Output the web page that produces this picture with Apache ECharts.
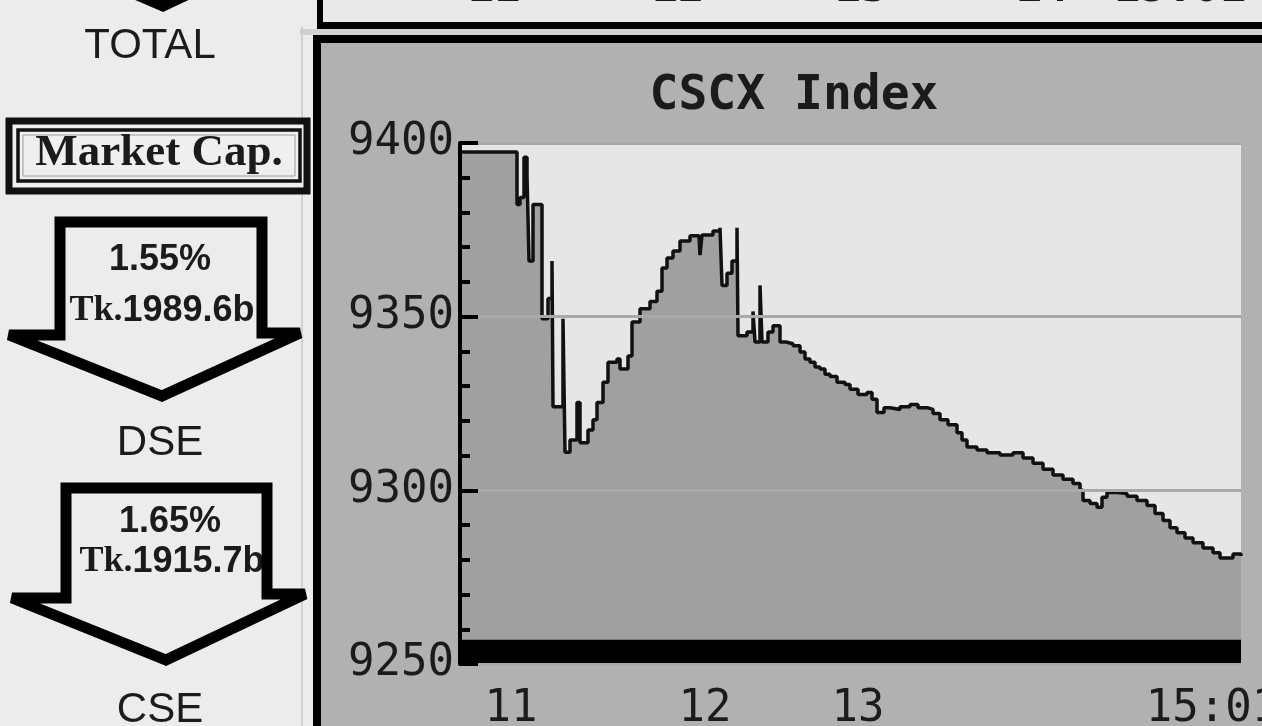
<!DOCTYPE html>
<html>
<head>
<meta charset="utf-8">
<title>CSCX Index</title>
<script src="https://cdn.jsdelivr.net/npm/echarts@6/dist/echarts.min.js"></script>
<style>
  html, body { margin: 0; padding: 0; background: #ececec; overflow: hidden; }
  #main { width: 1262px; height: 726px; }
</style>
</head>
<body>
<div id="main"></div>
<script>
// position along the trade axis (tick count) and the CSCX value there
var tickIndex = [0, 57, 60, 64, 67, 69, 73, 82, 88, 92, 93, 103, 105, 110, 117, 120, 128, 133, 137, 143,
  148, 157, 160, 168, 172, 180, 190, 197, 202, 207, 213, 220, 230, 239, 240, 242, 253, 260, 262, 267,
  272, 277, 278, 287, 293, 295, 300, 302, 308, 313, 320, 326, 333, 340, 345, 350, 355, 360, 365, 370,
  377, 385, 390, 398, 407, 412, 417, 424, 430, 440, 450, 458, 467, 473, 480, 488, 497, 502, 507, 517,
  527, 540, 553, 563, 573, 583, 593, 603, 613, 620, 623, 630, 637, 642, 647, 657, 667, 677, 687, 695,
  703, 710, 717, 725, 733, 743, 753, 760, 767, 773, 781];
var indexValue = [9397.4, 9382.3, 9384.3, 9395.9, 9390.7, 9366.0, 9382.3, 9349.4, 9355.2, 9366.0, 9324.1, 9349.4, 9311.0, 9314.5, 9325.3, 9313.7, 9317.4, 9320.3, 9325.3, 9331.1,
  9336.9, 9337.8, 9334.9, 9338.7, 9348.5, 9352.3, 9354.4, 9357.3, 9364.0, 9366.9, 9368.9, 9371.8, 9373.3, 9373.5, 9367.7, 9373.5, 9374.7, 9375.6, 9359.0, 9362.5,
  9366.0, 9375.6, 9344.5, 9345.6, 9351.5, 9342.7, 9359.0, 9342.7, 9345.6, 9347.4, 9342.7, 9342.2, 9341.6, 9339.8, 9337.8, 9336.9, 9335.5, 9334.9, 9333.4, 9332.8,
  9331.1, 9330.5, 9329.1, 9327.6, 9328.2, 9326.2, 9322.4, 9323.8, 9323.3, 9324.1, 9324.7, 9323.8, 9323.3, 9322.1, 9320.3, 9318.9, 9316.6, 9314.5, 9312.5, 9311.6,
  9310.8, 9310.2, 9310.8, 9309.3, 9307.8, 9306.1, 9304.4, 9303.2, 9302.0, 9300.0, 9297.1, 9296.2, 9295.1, 9298.0, 9299.4, 9299.1, 9298.3, 9297.1, 9295.6, 9293.3,
  9291.3, 9289.2, 9287.8, 9286.3, 9284.9, 9283.4, 9282.0, 9280.5, 9280.5, 9281.7, 9281.1];

// hour labels on the trade axis
var hourIndex = [51, 245, 398, 781];
var hourLabels = ['11', '12', '13', '15:01'];

// value axis
var yMin = 9250, yMax = 9400, yStep = 50;
// black base strip along the bottom of the plot
var baseBand = [9257, 9257];

// labels of the panel above (only their bottoms show)
var prevLabels = ['11', '12', '13', '14', '15:01'];

// left side: market capitalisation
var totalLabel = 'TOTAL';
var capTitle = 'Market Cap.';
var capPct = ['1.55%', '1.65%'];
var capValue = ['1989.6b', '1915.7b'];
var exchanges = ['DSE', 'CSE'];

var monoFont = '"DejaVu Sans Mono", monospace';

function arrow(pts, z) {
  return {
    type: 'polygon', z: z, silent: true,
    shape: { points: pts },
    style: { fill: 'none', stroke: '#000', lineWidth: 11, lineJoin: 'miter', miterLimit: 3 }
  };
}
function label(text, x, y, font, z) {
  return {
    type: 'text', z: z || 5, silent: true, x: x, y: y,
    style: { text: text, font: font, fill: '#1b1b1b', align: 'center', verticalAlign: 'middle' }
  };
}
function capLine(text, x, y) {
  return {
    type: 'text', z: 5, silent: true, x: x, y: y,
    style: {
      text: '{t|Tk.}{n|' + text + '}', align: 'center', verticalAlign: 'middle',
      rich: {
        t: { font: 'bold 36px "Liberation Serif", serif', fill: '#1b1b1b' },
        n: { font: 'bold 36px "Liberation Sans", sans-serif', fill: '#1b1b1b' }
      }
    }
  };
}

var graphics = [
  // chart panel and the panel above
  { type: 'rect', z: -10, silent: true, shape: { x: 318, y: 40, width: 944, height: 686 }, style: { fill: '#b1b1b1' } },
  { type: 'rect', z: -10, silent: true, shape: { x: 320, y: 0, width: 942, height: 24 }, style: { fill: '#e9e9e9' } },
  { type: 'rect', z: -9, silent: true, shape: { x: 300, y: 29, width: 962, height: 6 }, style: { fill: '#d2d2d2' } },
  { type: 'rect', z: -8, silent: true, shape: { x: 317, y: 0, width: 6, height: 29 }, style: { fill: '#000' } },
  { type: 'rect', z: -8, silent: true, shape: { x: 317, y: 22, width: 945, height: 7 }, style: { fill: '#000' } },
  { type: 'rect', z: -8, silent: true, shape: { x: 313, y: 35, width: 949, height: 8 }, style: { fill: '#000' } },
  { type: 'rect', z: -8, silent: true, shape: { x: 313, y: 35, width: 8, height: 691 }, style: { fill: '#000' } },
  { type: 'line', z: -8, silent: true, shape: { x1: 302, y1: 26, x2: 302, y2: 726 }, style: { stroke: '#c8c8c8', lineWidth: 1.5 } },

  // market cap box
  { type: 'rect', z: 2, silent: true, shape: { x: 9, y: 121, width: 298, height: 70 }, style: { fill: '#efefef', stroke: '#111', lineWidth: 7 } },
  { type: 'rect', z: 3, silent: true, shape: { x: 18, y: 130, width: 282, height: 51 }, style: { fill: 'none', stroke: '#111', lineWidth: 3.5 } },
  { type: 'rect', z: 3, silent: true, shape: { x: 23, y: 135, width: 272, height: 41 }, style: { fill: 'none', stroke: '#9a9a9a', lineWidth: 1 } },

  // arrows
  arrow([[60, -170], [262, -170], [262, -60], [302, -60], [163, 6], [10, -60], [60, -60]], 6),
  arrow([[60, 222], [262, 222], [262, 333], [300, 333], [162, 396], [9, 335], [60, 335]], 6),
  arrow([[66, 488], [267, 488], [267, 594], [305, 594], [166, 660], [12, 598], [66, 598]], 6),

  label(totalLabel, 150, 46, '42px "Liberation Sans", sans-serif'),
  label(capTitle, 159, 153, 'bold 45px "Liberation Serif", serif'),
  label(capPct[0], 160, 260, 'bold 36px "Liberation Sans", sans-serif'),
  capLine(capValue[0], 162, 311),
  label(exchanges[0], 160, 443, '42px "Liberation Sans", sans-serif'),
  label(capPct[1], 170, 522, 'bold 36px "Liberation Sans", sans-serif'),
  capLine(capValue[1], 172, 562),
  label(exchanges[1], 160, 710, '42px "Liberation Sans", sans-serif')
];

// bottoms of the labels of the panel above
var prevX = [494, 678, 861, 1042, 1180];
prevLabels.forEach(function (t, i) {
  graphics.push(label(t, prevX[i], -10, 'bold 44px ' + monoFont, -7));
});

var chart = echarts.init(document.getElementById('main'));
chart.setOption({
  animation: false,
  title: {
    text: 'CSCX Index',
    left: 789, top: 68, textAlign: 'center',
    textStyle: { fontFamily: monoFont, fontWeight: 'bold', fontSize: 48, color: '#1b1b1b' }
  },
  grid: {
    left: 460, right: 21, top: 143, bottom: 62,
    outerBoundsMode: 'none',
    show: true, backgroundColor: '#e6e6e6', borderWidth: 0
  },
  xAxis: {
    type: 'value', min: 0, max: 781,
    axisLine: { show: false },
    axisTick: { show: false },
    splitLine: { show: false },
    axisLabel: {
      customValues: hourIndex,
      margin: 24,
      fontFamily: monoFont, fontSize: 44, color: '#1b1b1b',
      formatter: function (v) {
        var i = hourIndex.indexOf(v);
        if (i < 0) return '';
        return i === hourIndex.length - 1 ? '{e|' + hourLabels[i] + '}' : hourLabels[i];
      },
      rich: {
        e: { fontFamily: monoFont, fontSize: 44, color: '#1b1b1b', padding: [0, 58, 0, 0] }
      }
    }
  },
  yAxis: {
    type: 'value', min: yMin, max: yMax, interval: yStep, z: 10,
    axisLine: { show: true, lineStyle: { color: '#000', width: 4 } },
    axisTick: { show: true, inside: true, length: 18, lineStyle: { color: '#000', width: 4 } },
    minorTick: { show: true, splitNumber: 5, length: 10, lineStyle: { color: '#000', width: 4 } },
    splitLine: { show: true, lineStyle: { color: '#a9a9a9', width: 3 } },
    axisLabel: {
      margin: 6, fontFamily: monoFont, fontSize: 44, color: '#1b1b1b',
      formatter: function (v) { return String(v); }
    }
  },
  series: [
    {
      type: 'line', name: 'CSCX',
      data: tickIndex.map(function (x, i) { return [x, indexValue[i]]; }),
      step: 'end', symbol: 'none', z: 3,
      lineStyle: { color: '#111', width: 3.5 },
      areaStyle: { color: '#a0a0a0', opacity: 1, origin: 'start' }
    },
    {
      type: 'line', name: 'base', silent: true,
      data: [[0, baseBand[0]], [781, baseBand[1]]],
      symbol: 'none', z: 5,
      lineStyle: { width: 0 },
      areaStyle: { color: '#000', opacity: 1, origin: 'start' }
    }
  ],
  graphic: graphics
});
</script>
</body>
</html>
